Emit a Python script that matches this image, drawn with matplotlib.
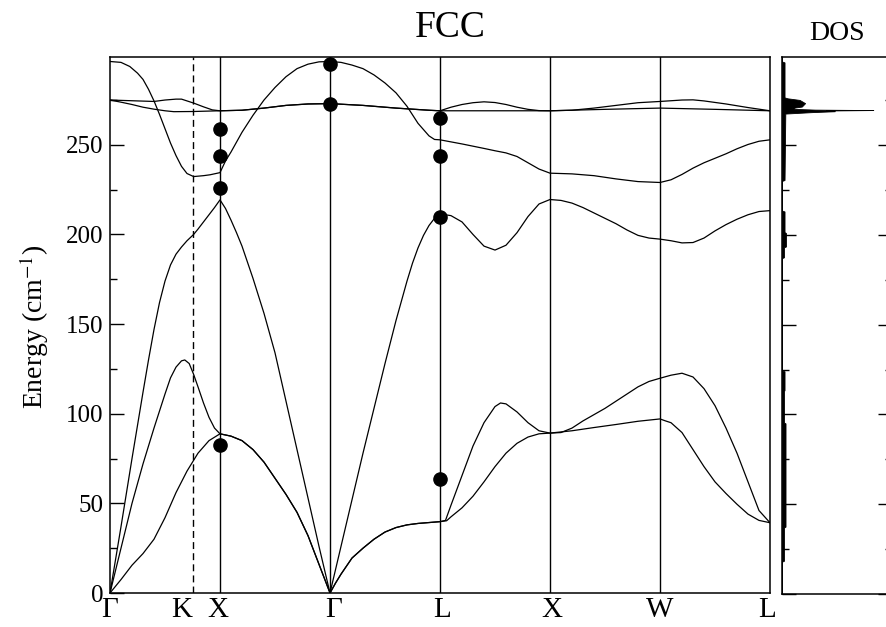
import matplotlib
matplotlib.use("Agg")
import matplotlib.pyplot as plt
from matplotlib.ticker import MultipleLocator

plt.rcParams['font.family'] = ['Liberation Serif', 'DejaVu Serif']
plt.rcParams['mathtext.fontset'] = 'stix'

# high symmetry points along the path (K sits inside the Gamma-X segment)
kpos = [0, 0.757, 1, 2, 3, 4, 5, 6]
klabels = ['Γ', 'K', 'X', 'Γ', 'L', 'X', 'W', 'L']
# where the labels are written (K label sits a bit left of its line)
label_pos = [0, 0.655, 0.985, 2.03, 3.02, 4.02, 5.0, 5.97]

# phonon branches: path coordinate and energy (cm^-1)
ta1_x = [0, 0.1, 0.2, 0.3, 0.4, 0.5, 0.6, 0.7, 0.8, 0.9, 1.0,
         1.1, 1.2, 1.3, 1.4, 1.5, 1.6, 1.7, 1.8, 1.9, 2.0,
         2.05, 2.1, 2.2, 2.3, 2.4, 2.5, 2.6, 2.7, 2.8, 2.9, 3.0,
         3.06, 3.1, 3.2, 3.3, 3.4, 3.5, 3.6, 3.7, 3.8, 3.9, 4.0,
         4.2, 4.4, 4.6, 4.8, 5.0,
         5.05, 5.1, 5.2, 5.3, 5.4, 5.5, 5.6, 5.7, 5.8, 5.9, 6.0]
ta1_e = [0, 7.5, 15.5, 22, 30, 42, 56, 68, 78, 85, 88.8,
         87.5, 85, 80, 73, 64, 55, 45, 32, 16, 0,
         5.5, 10.5, 19.5, 25, 30, 34, 36.5, 38, 38.8, 39.3, 39.8,
         40.3, 42.5, 47.5, 54, 62, 70.5, 78, 83.5, 87, 88.8, 89.2,
         90.5, 92.3, 94, 95.8, 97.1,
         96, 95, 89.5, 80, 70.5, 62, 55.5, 49.5, 44, 40.5, 39.2]

ta2_x = [0, 0.1, 0.2, 0.3, 0.4, 0.5, 0.55, 0.6, 0.65, 0.68, 0.72, 0.76, 0.8, 0.85, 0.9, 0.95, 1.0,
         1.1, 1.2, 1.3, 1.4, 1.5, 1.6, 1.7, 1.8, 1.9, 2.0,
         2.05, 2.1, 2.2, 2.3, 2.4, 2.5, 2.6, 2.7, 2.8, 2.9, 3.0,
         3.05, 3.1, 3.2, 3.3, 3.4, 3.5, 3.55, 3.6, 3.7, 3.8, 3.9, 4.0,
         4.1, 4.2, 4.3, 4.4, 4.5, 4.6, 4.7, 4.8, 4.9, 5.0,
         5.1, 5.2, 5.3, 5.4, 5.5, 5.6, 5.7, 5.8, 5.9, 6.0]
ta2_e = [0, 25, 50, 72, 92, 111, 120, 126, 129.5, 130, 128, 122, 115, 106, 98, 92, 88.8,
         87.5, 85, 80, 73, 64, 55, 45, 32, 16, 0,
         5.5, 10.5, 19.5, 25, 30, 34, 36.5, 38, 38.8, 39.3, 39.8,
         40.5, 49, 65.5, 82, 95, 104, 106, 105.5, 101, 95, 90.5, 89.2,
         89.5, 92, 96, 99.5, 103, 107, 111, 115, 118, 119.8,
         121.5, 122.6, 120.5, 114, 104.5, 92, 78, 62, 46, 39.2]

la_x = [0, 0.1, 0.2, 0.3, 0.35, 0.4, 0.45, 0.5, 0.55, 0.6, 0.65, 0.7, 0.76, 0.8, 0.85, 0.9, 0.95, 1.0,
        1.05, 1.1, 1.15, 1.2, 1.3, 1.4, 1.5, 1.6, 1.7, 1.8, 1.9, 2.0,
        2.1, 2.2, 2.3, 2.4, 2.5, 2.6, 2.65, 2.7, 2.75, 2.8, 2.85, 2.9, 2.95, 3.0,
        3.1, 3.2, 3.3, 3.4, 3.5, 3.6, 3.7, 3.8, 3.9, 4.0,
        4.1, 4.2, 4.3, 4.4, 4.5, 4.6, 4.7, 4.8, 4.9, 5.0,
        5.1, 5.2, 5.3, 5.4, 5.5, 5.6, 5.7, 5.8, 5.9, 6.0]
la_e = [0, 37, 75, 112, 130, 147, 162, 174, 183, 189, 193, 196.5, 200, 203, 207, 211, 215, 219.3,
        214.5, 208, 201, 193.5, 175.5, 156, 134, 107, 80, 53, 26, 0,
        26, 52, 78, 103, 128, 152, 163, 174, 184, 192.5, 199.5, 205, 209, 211.5,
        210.5, 207, 200, 193.5, 191.3, 194, 201, 210, 217, 219.5,
        219, 217.5, 215, 212, 209, 206, 202.5, 199.5, 198, 197.4,
        196.5, 195.3, 195.5, 198, 202, 205.5, 208.5, 211, 212.8, 213.3]

lo_x = [0, 0.1, 0.18, 0.25, 0.3, 0.35, 0.4, 0.45, 0.5, 0.55, 0.6, 0.65, 0.7, 0.76, 0.85, 0.91, 1.0,
        1.05, 1.1, 1.2, 1.3, 1.4, 1.5, 1.6, 1.7, 1.8, 1.9, 2.0,
        2.1, 2.2, 2.3, 2.4, 2.5, 2.6, 2.7, 2.8, 2.9, 2.95, 3.0,
        3.2, 3.4, 3.5, 3.6, 3.7, 3.8, 3.9, 4.0,
        4.2, 4.4, 4.6, 4.8, 5.0,
        5.1, 5.2, 5.3, 5.4, 5.5, 5.6, 5.7, 5.8, 5.9, 6.0]
lo_e = [296.5, 296, 293.7, 290, 286.5, 281, 274.5, 267, 259, 251, 244, 238, 234, 232.3, 232.8, 233.3, 234.5,
        241, 246, 257, 266.5, 275, 282, 288, 292.5, 295, 296.3, 296.5,
        296, 294.5, 292.5, 289, 284.5, 279, 271.5, 262, 255, 253, 252.8,
        250.5, 248, 246.7, 245.5, 243.5, 240, 236.5, 234.2,
        233.8, 232.8, 231, 229.5, 229,
        230.5, 233.5, 237, 240, 242.5, 245, 247.8, 250.2, 252, 252.8]

to1_x = [0, 0.2, 0.4, 0.5, 0.6, 0.65, 0.76, 0.85, 0.93, 1.0,
         1.2, 1.4, 1.6, 1.8, 2.0,
         2.3, 2.6, 2.9, 3.0,
         3.1, 3.2, 3.3, 3.4, 3.5, 3.6, 3.7, 3.8, 3.9, 4.0,
         4.2, 4.4, 4.6, 4.8, 5.0,
         5.2, 5.3, 5.4, 5.6, 5.8, 6.0]
to1_e = [275, 274.6, 274.2, 275, 275.5, 275.5, 273.3, 271.2, 269.5, 269,
         269.3, 270.5, 272, 272.8, 273,
         272, 270.5, 269.3, 269,
         271, 272.5, 273.5, 274, 273.6, 272.5, 271, 269.8, 269.1, 269,
         269.3, 270.5, 272, 273.5, 274.2,
         275, 275.1, 274.5, 272.8, 270.8, 269]

to2_x = [0, 0.1, 0.2, 0.3, 0.4, 0.5, 0.58, 0.76, 1.0,
         1.2, 1.4, 1.6, 1.8, 2.0,
         2.3, 2.6, 2.9, 3.0,
         4.0, 4.5, 5.0, 5.5, 6.0]
to2_e = [275, 273.8, 272.5, 271, 269.9, 269, 268.5, 268.6, 269,
         269.3, 270.5, 272, 272.8, 273,
         272, 270.5, 269.3, 269,
         269, 269.8, 270.5, 269.8, 269]

# experimental points (black dots)
exp_x = [1, 1, 1, 1, 2, 2, 3, 3, 3, 3]
exp_e = [259, 243.5, 226, 82.6, 295.2, 272.7, 265.2, 243.5, 210, 63.6]

# density of states (energy, weight)
dos_e = [0, 18, 18.5, 37, 37.5, 95, 95.5, 113, 113.5, 124, 124.5,
         187, 187.5, 193, 193.5, 201, 201.5, 213, 213.5, 230, 230.5,
         267.5, 268.3, 268.8, 269.2, 269.45, 269.7, 270.1, 270.6, 271.4,
         273.3, 275.1, 276, 276.5, 296, 296.5, 299]
dos_w = [0, 0, 0.018, 0.018, 0.032, 0.032, 0.018, 0.018, 0.023, 0.023, 0,
         0, 0.018, 0.018, 0.036, 0.036, 0.023, 0.023, 0, 0, 0.023,
         0.03, 0.27, 0.48, 0.4, 0.83, 0.3, 0.12, 0.09, 0.18,
         0.21, 0.16, 0.05, 0.023, 0.023, 0, 0]

ymax = 299

fig = plt.figure(figsize=(8.87, 6.27), dpi=100)
ax = fig.add_axes([110/887, 34/627, 660/887, 536/627])
ax2 = fig.add_axes([782/887, 33/627, 110/887, 537/627])

for xs, es in [(ta1_x, ta1_e), (ta2_x, ta2_e), (la_x, la_e),
               (lo_x, lo_e), (to1_x, to1_e), (to2_x, to2_e)]:
    ax.plot(xs, es, color='black', lw=0.9)

for i, p in enumerate(kpos[1:-1]):
    if klabels[i + 1] == 'K':
        ax.axvline(p, color='black', lw=1.0, ls=(0, (5, 3)))
    else:
        ax.axvline(p, color='black', lw=1.0)

ax.plot(exp_x, exp_e, 'o', color='black', ms=9.5, zorder=5)

ax.set_xlim(0, 6)
ax.set_ylim(0, ymax)
ax.set_xticks(label_pos)
ax.set_xticklabels(klabels, fontsize=21)
ax.tick_params(axis='x', length=0, pad=3)
ax.yaxis.set_major_locator(MultipleLocator(50))
ax.yaxis.set_minor_locator(MultipleLocator(25))
ax.tick_params(axis='y', which='major', direction='in', length=10, width=1, labelsize=18, pad=5)
ax.tick_params(axis='y', which='minor', direction='in', length=5, width=1)
for s in ax.spines.values():
    s.set_linewidth(1.1)

# DOS panel
ax2.fill_betweenx(dos_e, 0, dos_w, color='black', lw=0.6)
ax2.set_xlim(0, 1)
ax2.set_ylim(0, ymax)
ax2.set_xticks([])
ax2.yaxis.set_major_locator(MultipleLocator(50))
ax2.yaxis.set_minor_locator(MultipleLocator(25))
ax2.tick_params(axis='y', which='major', direction='in', length=10, width=1,
                left=True, right=True, labelleft=False)
ax2.tick_params(axis='y', which='minor', direction='in', length=5, width=1,
                left=True, right=True)
for s in ax2.spines.values():
    s.set_linewidth(1.1)

fig.text(450/887, 1 - 27.5/627, 'FCC', fontsize=27, ha='center', va='center')
fig.text(837/887, 1 - 34/627, 'DOS', fontsize=20, ha='center', va='center')
fig.text(34/887, 1 - 327/627, 'Energy (cm$^{-1}$)', fontsize=20, rotation=90,
         ha='center', va='center')

fig.savefig('out.png', dpi=100)
